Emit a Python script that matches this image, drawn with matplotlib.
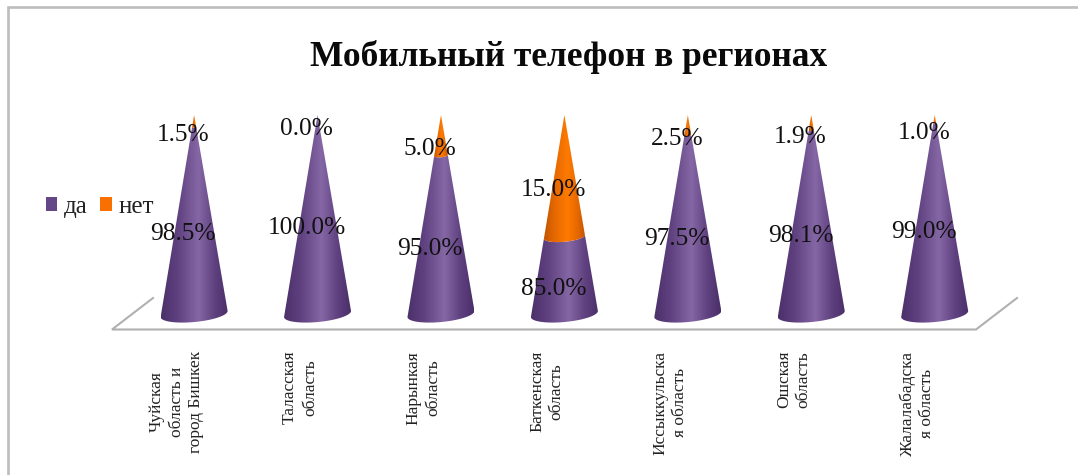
import numpy as np
import matplotlib
matplotlib.use("Agg")
import matplotlib.pyplot as plt
from matplotlib.colors import LinearSegmentedColormap
from matplotlib.lines import Line2D
from matplotlib.patches import Patch, Polygon
from matplotlib.transforms import ScaledTranslation

categories = ["Чуйская\nобласть и\nгород Бишкек", "Таласская\nобласть", "Нарынкая\nобласть",
              "Баткенская\nобласть", "Иссыккульска\nя область", "Ошская\nобласть",
              "Жалалабадска\nя область"]
da_values = [98.5, 100.0, 95.0, 85.0, 97.5, 98.1, 99.0]
net_values = [1.5, 0.0, 5.0, 15.0, 2.5, 1.9, 1.0]
series_names = ["да", "нет"]
title = "Мобильный телефон в регионах"

W, H = 1078, 475
plt.rcParams["font.family"] = ["Liberation Serif", "DejaVu Serif"]
fig = plt.figure(figsize=(W / 100, H / 100), dpi=100, facecolor="white")

# axes placed in pixels
x0, x1, y_top, y_base = 132.4, 996.4, 115.0, 314.0
ax = fig.add_axes([x0 / W, 1 - y_base / H, (x1 - x0) / W, (y_base - y_top) / H])
ax.patch.set_visible(False)
Y_MIN, Y_MAX = 75.5, 100.0
ax.set_xlim(-0.5, 6.5)
ax.set_ylim(Y_MIN, Y_MAX)
for s in ax.spines.values():
    s.set_visible(False)
ax.set_yticks([])

px_x = 7 / (x1 - x0)            # data units per pixel, x
px_y = (Y_MAX - Y_MIN) / (y_base - y_top)
R_BASE = 33.5 * px_x            # base radius
SQUASH = 0.24                   # ellipse depth / radius, in pixels
TILT = 0.09                     # right side of the rim sits higher

purple = LinearSegmentedColormap.from_list("p", [(0, "#4b3069"), (.25, "#5f4180"), (.56, "#8667a6"),
                                                 (.8, "#5f4180"), (1, "#4a2f68")])
orange = LinearSegmentedColormap.from_list("o", [(0, "#c25400"), (.25, "#e56800"), (.56, "#ff7a00"),
                                                 (.8, "#e56800"), (1, "#c25400")])
grad = np.linspace(0, 1, 256)[None, :]


def rim(i, level):
    """Lower half of the cone's ring at a value level, left to right."""
    r = R_BASE * (Y_MAX - level) / (Y_MAX - Y_MIN)
    t = np.linspace(np.pi, 2 * np.pi, 40)
    dx = r * np.cos(t)
    dy_px = (r / px_x) * (SQUASH * np.sin(t) + TILT * np.cos(t))
    return i + dx, level + dy_px * px_y


def segment(i, low, high, cmap):
    xl, yl = rim(i, low)
    if high >= Y_MAX:
        xs, ys = np.r_[xl, i], np.r_[yl, high]
    else:
        xh, yh = rim(i, high)
        xs, ys = np.r_[xl, xh[::-1]], np.r_[yl, yh[::-1]]
    clip = Polygon(np.c_[xs, ys], closed=True, transform=ax.transData, fc="none", ec="none")
    clip.set_clip_on(False)
    ax.add_patch(clip)
    # the gradient spans the width of the segment's own lower rim
    r = xl.max() - i
    im = ax.imshow(grad, cmap=cmap, aspect="auto", interpolation="bilinear",
                   extent=(i - r, i + r, Y_MIN - 3, Y_MAX), zorder=2)
    im.set_clip_box(fig.bbox)
    im.set_clip_path(clip)


for i, (d, n) in enumerate(zip(da_values, net_values)):
    segment(i, Y_MIN, d, purple)
    if n > 0:
        segment(i, d, d + n, orange)
    for low, high, v in ((Y_MIN, d, d), (d, d + n, n)):
        ax.annotate(f"{v:.1f}%", xy=(i, (low + high) / 2), xytext=(-7.8, -10.0),
                    textcoords="offset points", ha="center", va="center",
                    fontsize=18.3, color="#111111", zorder=5, annotation_clip=False)

ax.set_xlim(-0.5, 6.5)
ax.set_ylim(Y_MIN, Y_MAX)

# category labels
ax.set_xticks(range(len(categories)))
ax.set_xticklabels(categories, rotation=90, ha="center", va="top", multialignment="center",
                   fontsize=12.5, linespacing=1.32, color="#222222")
ax.tick_params(axis="x", length=0, pad=26.5)
shift = ScaledTranslation(-17.5 / 100, 0, fig.dpi_scale_trans)
for lab in ax.get_xticklabels():
    lab.set_transform(lab.get_transform() + shift)


def fig_line(xs, ys, color, lw):
    fig.add_artist(Line2D([x / W for x in xs], [1 - y / H for y in ys], color=color, lw=lw,
                          transform=fig.transFigure, solid_joinstyle="miter"))


# chart frame (cut by the right edge of the picture)
fig_line([8, 8, W + 5], [474, 6.5, 6.5], "#bdbdbd", 1.9)
# floor of the 3-D plot
fig_line([153, 112, 976, 1017], [298, 329.5, 329.5, 298], "#b0b0b0", 1.5)

fig.text(569 / W, 1 - 57 / H, title, ha="center", va="center", fontsize=25.5,
         fontweight="bold", color="#0a0a0a")

handles = [Patch(fc="#644786", ec="none"), Patch(fc="#f97000", ec="none")]
fig.legend(handles, series_names, loc="center left", bbox_to_anchor=(38 / W, 1 - 207 / H), ncol=2,
           frameon=False, fontsize=18, handlelength=0.47, handleheight=0.47,
           handletextpad=0.25, columnspacing=0.52, borderpad=0.0, labelcolor="#222222",
           borderaxespad=0.3)

fig.savefig("out.png", dpi=100)
